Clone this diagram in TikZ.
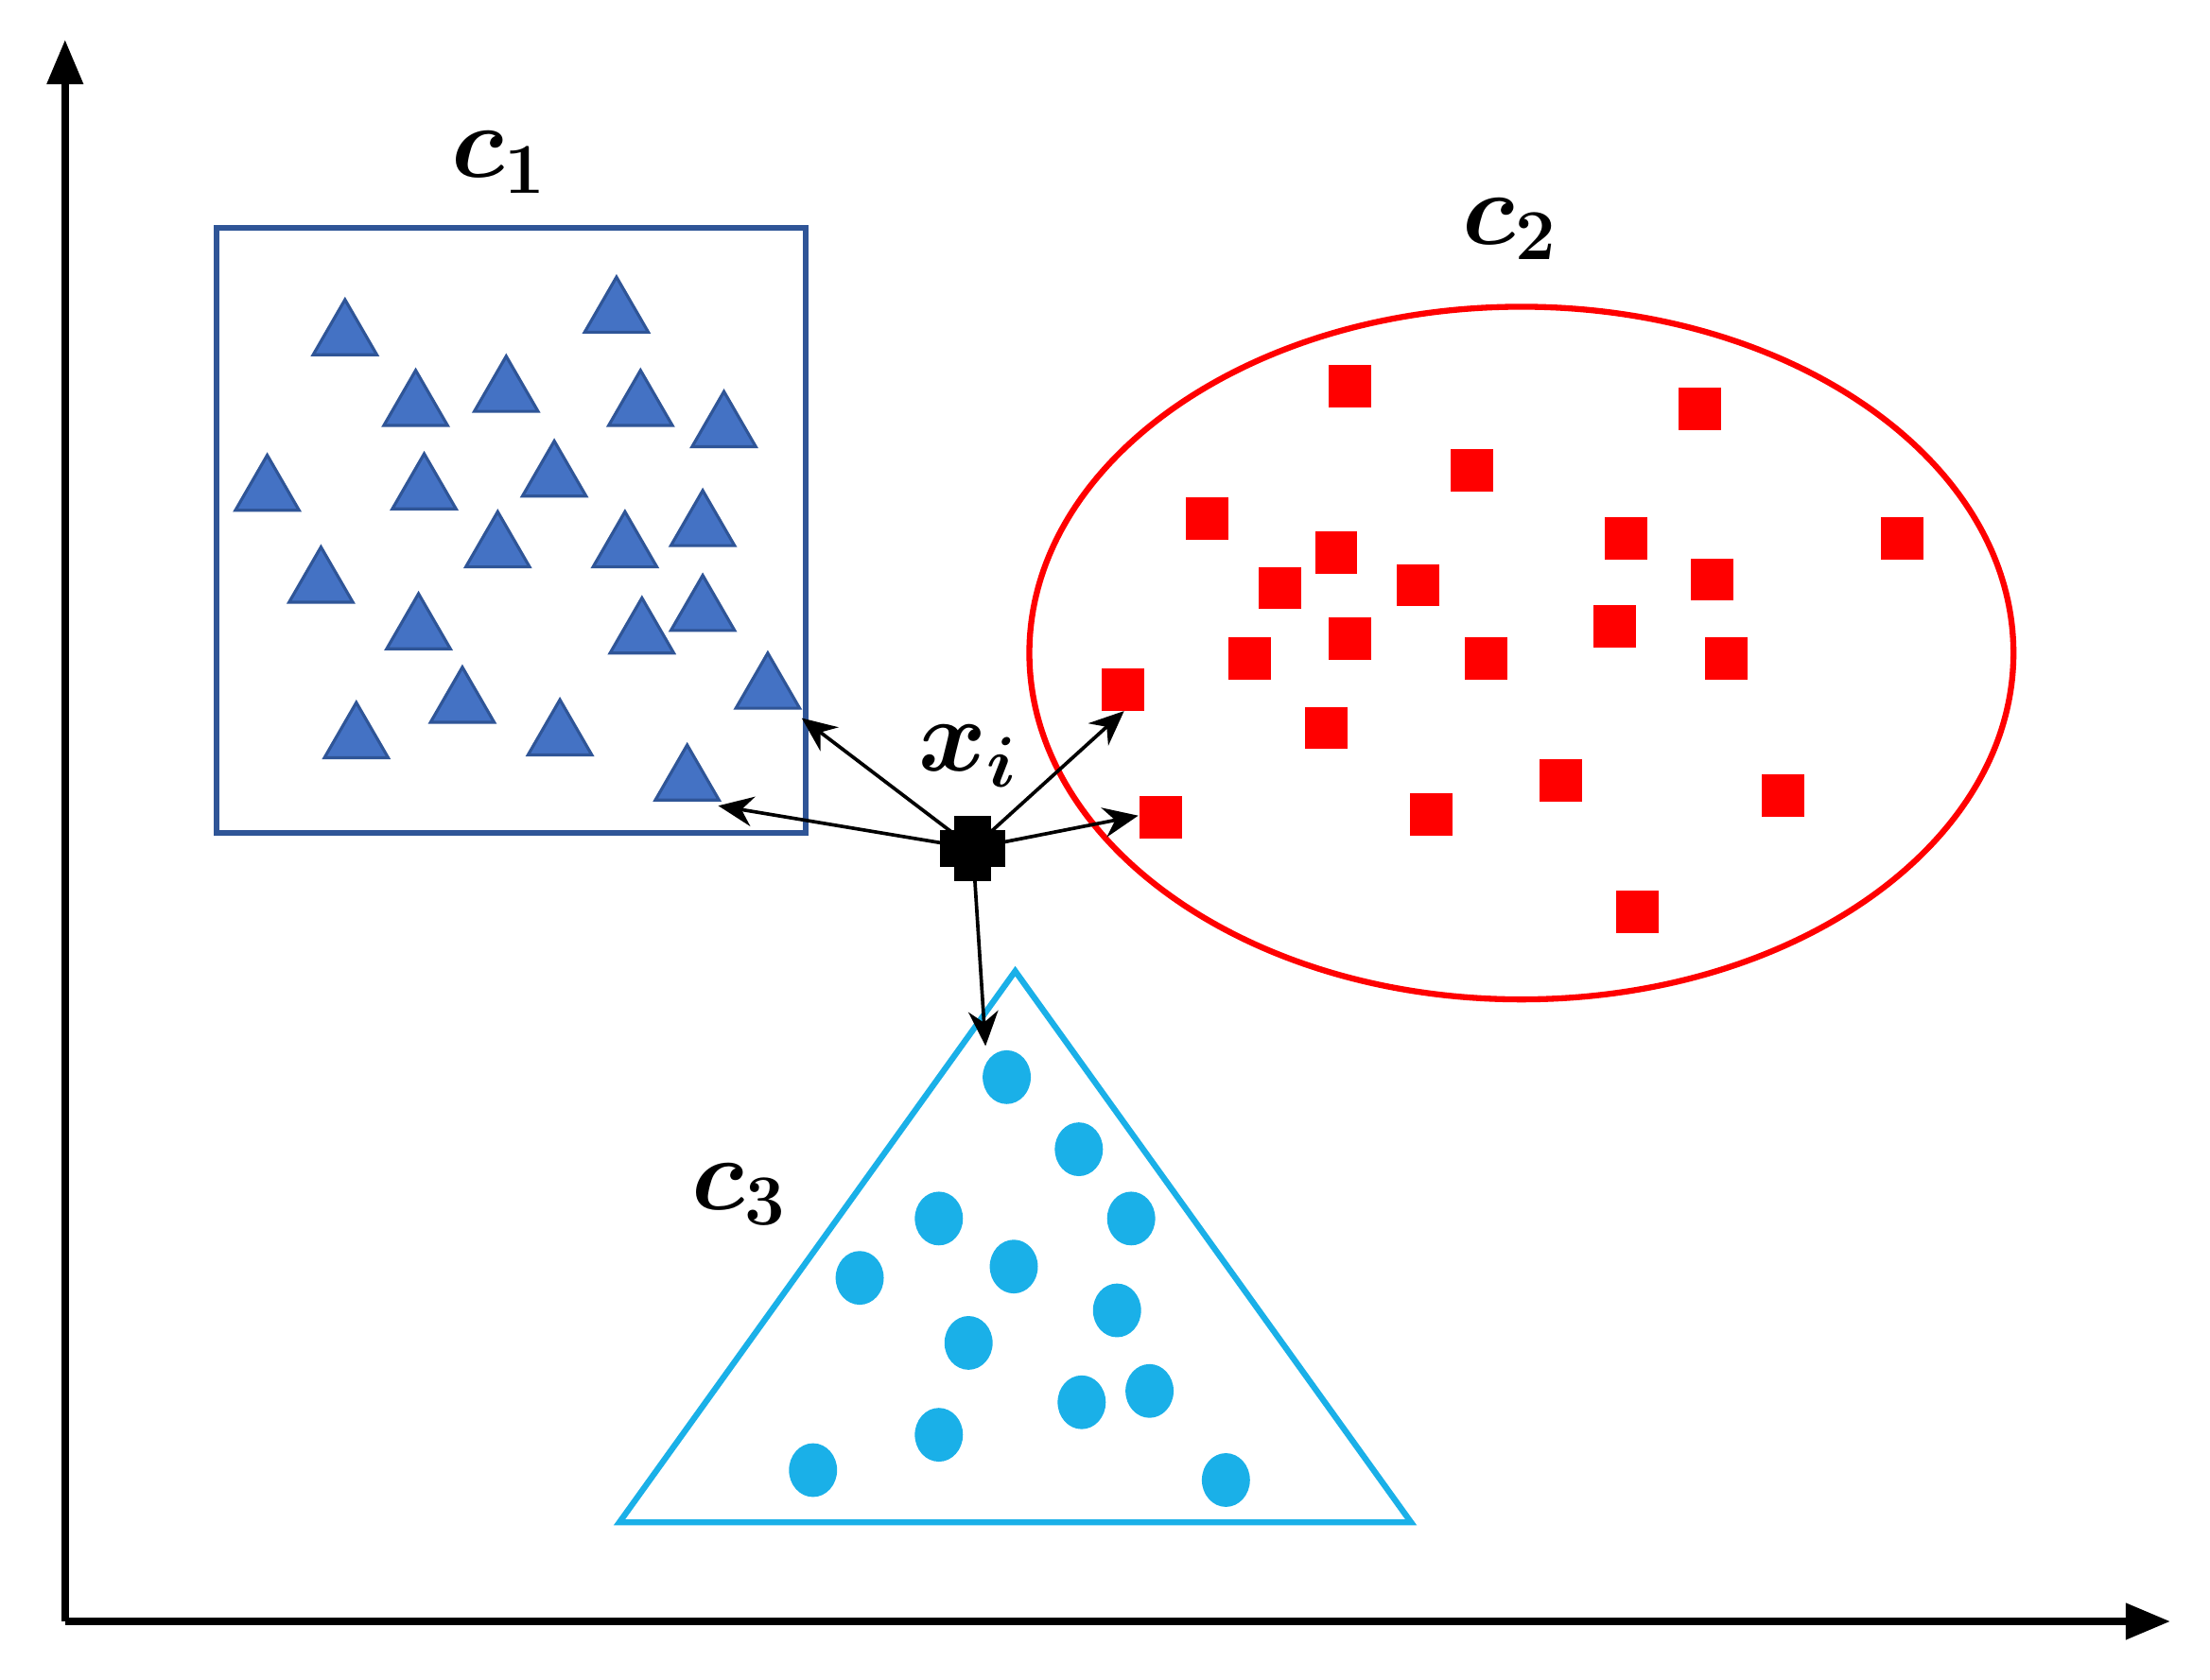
\documentclass[tikz,border=0pt]{standalone}
\usepackage{amsmath,bm}
\usetikzlibrary{arrows.meta,shapes.geometric}
\definecolor{boxblue}{HTML}{2F5597}
\definecolor{triblue}{HTML}{4472C4}
\definecolor{cy}{HTML}{1AB0E8}
\begin{document}
\begin{tikzpicture}[x=0.01cm,y=-0.01cm,
  ax/.style={line width=1.6pt,-{Triangle[length=9pt,width=7pt]}},
  tri/.style={regular polygon,regular polygon sides=3,fill=triblue,draw=boxblue,line width=0.6pt,minimum size=0.52cm,inner sep=0pt},
  sq/.style={rectangle,fill=red,minimum size=0.3cm,inner sep=0pt},
  dot/.style={ellipse,fill=cy,minimum width=0.34cm,minimum height=0.38cm,inner sep=0pt},
  lab/.style={font=\fontsize{22}{26}\selectfont},
  arr/.style={line width=0.7pt,-{Stealth[length=7pt,width=6pt]}}]
\useasboundingbox (0,0) rectangle (1563,1188);
\coordinate (O) at (46,1147);
\coordinate (Y) at (46,28);
\coordinate (X) at (1535,1147);
\draw[ax] (O) -- (Y);
\draw[ax] (O) -- (X);
\draw[boxblue,line width=1.2pt] (153,161) rectangle (570,589);
\node[lab] (c1) at (353,115) {$\bm{c_1}$};
\draw[red,line width=1.2pt] (1076,462) ellipse [x radius=348,y radius=245];
\node[lab] (c2) at (1068,162) {$\bm{c_2}$};
\draw[cy,line width=1.2pt] (438,1077) -- (718,687) -- (998,1077) -- cycle;
\node[lab] (c3) at (523,845) {$\bm{c_3}$};
\node[lab] (xl) at (685,535) {$\bm{x_i}$};
\foreach \p [count=\i] in {(244,238),(436,222),(294,288),(358,278),(453,288),(512,303),(189,348),(300,347),(392,338),(497,373),(352,388),(442,388),(227,413),(296,446),(454,449),(497,433),(543,488),(327,498),(252,523),(396,521),(486,553)}
  \node[tri] (t\i) at \p {};
\foreach \p [count=\i] in {(955,273),(1202,289),(1041,333),(854,367),(945,391),(1150,381),(1345,381),(905,416),(1003,414),(1211,410),(955,452),(884,466),(1051,466),(1142,443),(1221,466),(794,488),(938,515),(1104,552),(1012,576),(1261,563),(821,578),(1158,645)}
  \node[sq] (s\i) at \p {};
\foreach \p [count=\i] in {(712,762),(763,813),(664,862),(800,862),(608,904),(717,896),(790,927),(685,950),(765,992),(813,984),(664,1015),(575,1040),(867,1047)}
  \node[dot] (d\i) at \p {};
\node[fill=black,minimum width=0.46cm,minimum height=0.26cm,inner sep=0pt] (xi) at (688,600) {};
\node[fill=black,minimum width=0.26cm,minimum height=0.46cm,inner sep=0pt] (xi2) at (688,600) {};
\coordinate (e1) at (567,508);
\coordinate (e2) at (508,570);
\coordinate (e3) at (795,503);
\coordinate (e4) at (805,577);
\coordinate (e5) at (697,740);
\foreach \e in {e1,e2,e3,e4,e5} \draw[arr] (xi.center) -- (\e);
\end{tikzpicture}
\end{document}
